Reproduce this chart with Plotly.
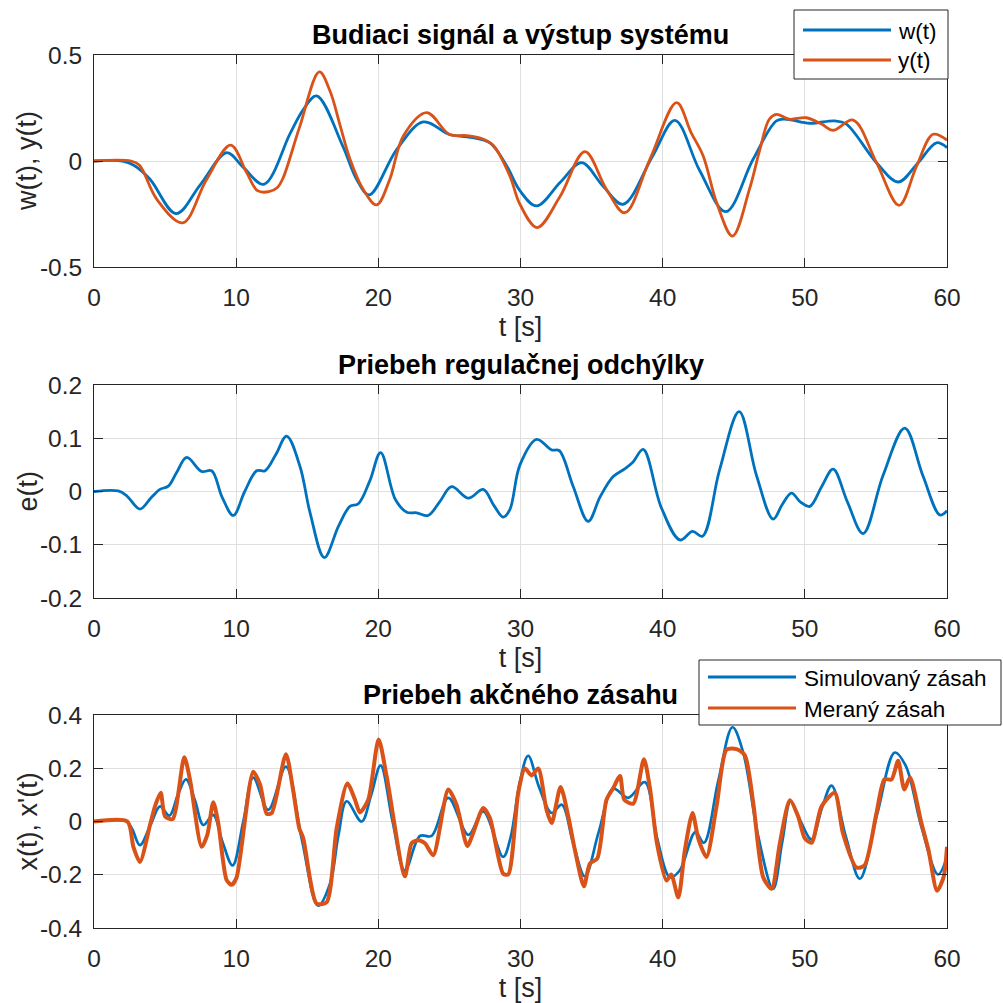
import plotly.graph_objects as go

# ---------------- data ----------------
t_w = [0, 2.0, 2.8, 3.94, 5.77, 7.5, 9.33, 10.5, 11.95, 13.8, 14.7, 15.66, 17.5, 18.47, 19.36,
       21.3, 23.16, 25.0, 26.5, 27.85, 29.0, 29.96, 31.13, 32.8, 34.3, 35.8, 37.22, 39.3,
       40.86, 42.6, 44.44, 46.36, 48.0, 48.7, 50.35, 52.1, 52.9, 55.04, 56.56, 57.97, 59.26, 60]
w = [0, 0, -0.02, -0.086, -0.248, -0.11, 0.039, -0.03, -0.11, 0.13, 0.24, 0.307, 0.07, -0.086, -0.16,
     0.055, 0.184, 0.125, 0.112, 0.085, -0.02, -0.14, -0.212, -0.10, -0.008, -0.118, -0.204, 0.024,
     0.192, -0.045, -0.239, 0.008, 0.189, 0.197, 0.178, 0.189, 0.175, -0.008, -0.099, -0.008, 0.086, 0.063]

t_y = [0, 2.6, 3.2, 4.41, 6.24, 7.9, 9.61, 10.74, 11.5, 12.3, 12.9, 13.3, 14.46, 15.85, 16.6, 17.3,
       18.0, 18.9, 19.88, 20.8, 21.76, 23.4, 25.0, 26.2, 27.3, 28.08, 29.25, 29.96, 31.17, 32.76,
       34.53, 36.05, 37.34, 39.1, 40.98, 42.0, 42.85, 43.8, 44.91, 46.1, 46.84, 47.5, 48.0, 48.9,
       50.1, 51.2, 51.99, 53.4, 55.04, 56.63, 57.86, 59.02, 60]
y = [0, 0, -0.02, -0.18, -0.292, -0.09, 0.075, -0.055, -0.14, -0.145, -0.125, -0.08, 0.16, 0.42, 0.33, 0.17,
     0.01, -0.13, -0.207, -0.087, 0.118, 0.228, 0.125, 0.12, 0.105, 0.074, -0.07, -0.204, -0.314, -0.17,
     0.044, -0.134, -0.244, 0.008, 0.275, 0.134, 0.024, -0.197, -0.354, -0.134, 0.055, 0.197, 0.22, 0.197,
     0.204, 0.173, 0.145, 0.193, -0.008, -0.209, -0.024, 0.126, 0.099]

t_e = [0, 1.7, 2.3, 3.23, 4.0, 4.64, 5.23, 5.8, 6.52, 7.57, 8.28, 9.0, 9.8, 10.6, 11.44, 12.03, 12.8,
       13.55, 14.49, 15.2, 16.2, 17.2, 18.0, 18.59, 19.4, 20.16, 21.2, 22.0, 22.7, 23.5, 24.3, 25.15,
       26.33, 27.38, 28.1, 28.78, 29.25, 29.96, 31.13, 32.19, 32.72, 33.7, 34.76, 35.6, 36.52, 37.3,
       37.9, 38.63, 39.9, 41.21, 42.1, 42.8, 44.0, 45.38, 46.6, 47.77, 48.4, 49.06, 49.7, 50.35, 51.2,
       51.99, 53.0, 54.1, 55.5, 57.03, 58.3, 59.5, 60]
e = [0, 0.001, -0.008, -0.033, -0.012, 0.004, 0.01, 0.035, 0.064, 0.0375, 0.039, -0.01, -0.045, 0.0, 0.039, 0.039, 0.07,
     0.104, 0.047, -0.04, -0.124, -0.065, -0.028, -0.023, 0.02, 0.073, -0.015, -0.039, -0.04, -0.045, -0.02, 0.009,
     -0.0125, 0.004, -0.025, -0.048, -0.034, 0.05, 0.098, 0.078, 0.077, 0.01, -0.056, -0.01, 0.028, 0.042,
     0.055, 0.079, -0.03, -0.091, -0.075, -0.084, 0.04, 0.15, 0.03, -0.052, -0.025, -0.003, -0.02, -0.028, 0.01,
     0.042, -0.02, -0.079, 0.03, 0.119, 0.03, -0.044, -0.036]

t_xs = [0, 2.3, 2.7, 3.23, 4.0, 4.64, 5.3, 5.9, 6.47, 7.1, 7.69, 8.39, 9.0, 9.75, 10.5, 11.2, 12.26,
        13.5, 14.6, 15.77, 16.6, 17.2, 17.77, 18.82, 19.5, 20.16, 21.0, 21.87, 22.93, 23.75, 24.92,
        26.33, 27.38, 28.78, 29.3, 29.96, 30.54, 31.3, 32.19, 32.9, 33.7, 34.53, 35.5, 36.52, 37.58,
        38.75, 39.6, 40.51, 41.2, 42.3, 42.9, 43.9, 44.91, 45.66, 46.7, 47.77, 48.4, 49.0, 49.6, 50.47,
        51.2, 51.88, 52.9, 53.87, 55.1, 56.33, 57.1, 58.2, 59.37, 60]
xs = [0, 0, -0.03, -0.089, -0.01, 0.057, 0.022, 0.1, 0.158, 0.08, -0.013, 0.025, -0.07, -0.165, 0.0, 0.165, 0.044,
      0.206, -0.063, -0.316, -0.234, -0.05, 0.076, 0.0, 0.1, 0.211, 0.0, -0.184, -0.054, -0.054, 0.089,
      -0.05, 0.038, -0.133, -0.06, 0.15, 0.247, 0.13, 0.032, 0.063, -0.08, -0.206, -0.04, 0.123, 0.089,
      0.148, -0.06, -0.209, -0.184, -0.04, -0.08, 0.15, 0.354, 0.26, -0.05, -0.253, -0.08, 0.076, 0.013, -0.067,
      0.05, 0.135, -0.06, -0.215, 0.03, 0.259, 0.209, -0.02, -0.199, -0.133]

t_xm = [0, 2.35, 2.77, 3.23, 3.94, 4.29, 4.69, 5.0, 5.53, 6.35, 6.75, 7.57, 7.97, 8.39, 8.74, 9.33, 9.68,
        10.03, 11.2, 11.68, 12.15, 12.5, 13.5, 14.0, 14.44, 14.72, 15.66, 16.36, 17.07, 17.82, 18.36,
        18.7, 19.29, 20.02, 20.58, 21.87, 22.34, 22.81, 23.28, 23.86, 24.92, 25.5, 26.26, 26.68, 27.38,
        27.85, 28.78, 29.14, 29.84, 30.31, 30.78, 31.25, 31.83, 32.19, 32.82, 33.36, 33.83, 34.46, 34.88,
        35.4, 36.05, 36.5, 37.0, 37.3, 37.93, 38.68, 39.1, 39.6, 40.27, 40.6, 41.1, 41.56, 42.1, 42.5,
        43.08, 43.79, 44.5, 45.2, 45.78, 46.37, 47.07, 47.66, 48.24, 48.95, 49.53, 50.0, 50.47, 51.18,
        52.1, 52.68, 53.64, 54.2, 55.04, 55.6, 56.1, 56.56, 57.0, 57.4, 58.2, 58.7, 59.3, 59.76, 60]
xm = [0, 0, -0.095, -0.152, -0.013, 0.057, 0.108, 0.019, 0.009, 0.241, 0.158, -0.095, -0.05, 0.072, -0.006, -0.22, -0.238,
      -0.21, 0.187, 0.139, 0.029, 0.032, 0.253, 0.12, -0.025, -0.063, -0.308, -0.304, -0.025, 0.143, 0.082,
      0.034, 0.082, 0.308, 0.171, -0.206, -0.082, -0.07, -0.082, -0.127, 0.12, 0.063, -0.092, -0.042, 0.051,
      0.013, -0.196, -0.199, 0.108, 0.199, 0.173, 0.199, 0.044, -0.006, 0.13, 0.019, -0.108, -0.243, -0.158,
      -0.139, 0.082, 0.123, 0.171, 0.082, 0.067, 0.234, 0.127, -0.082, -0.222, -0.199, -0.285, -0.108, 0.032, -0.063,
      -0.133, 0.057, 0.27, 0.272, 0.249, 0.07, -0.209, -0.253, -0.082, 0.08, 0.019, -0.063, -0.08, 0.057,
      0.108, -0.044, -0.173, -0.165, 0.032, 0.158, 0.158, 0.228, 0.12, 0.165, -0.006, -0.108, -0.26, -0.209, -0.095]

x_ticks = [0, 10, 20, 30, 40, 50, 60]
x_ticktext = ["0", "10", "20", "30", "40", "50", "60"]
y1_ticks = [-0.5, 0, 0.5]
y1_ticktext = ["-0.5", "0", "0.5"]
y2_ticks = [-0.2, -0.1, 0, 0.1, 0.2]
y2_ticktext = ["-0.2", "-0.1", "0", "0.1", "0.2"]
y3_ticks = [-0.4, -0.2, 0, 0.2, 0.4]
y3_ticktext = ["-0.4", "-0.2", "0", "0.2", "0.4"]

titles = ["Budiaci signál a výstup systému", "Priebeh regulačnej odchýlky", "Priebeh akčného zásahu"]
y_labels = ["w(t), y(t)", "e(t)", "x(t), x'(t)"]
x_label = "t [s]"
legend1 = ["w(t)", "y(t)"]
legend2 = ["Simulovaný zásah", "Meraný zásah"]

# ---------------- styling ----------------
BLUE = "#0072BD"
ORANGE = "#D95319"
AXC = "#262626"
FONT = "Liberation Sans, Arial, Helvetica, sans-serif"
W = H = 1003


def px(v):
    return v / W


def py(v):
    return 1 - v / H


fig = go.Figure()
fig.add_trace(go.Scatter(x=t_w, y=w, name=legend1[0], mode="lines", xaxis="x", yaxis="y",
                         line=dict(color=BLUE, width=2.8, shape="spline", smoothing=1.0)))
fig.add_trace(go.Scatter(x=t_y, y=y, name=legend1[1], mode="lines", xaxis="x", yaxis="y",
                         line=dict(color=ORANGE, width=2.8, shape="spline", smoothing=1.0)))
fig.add_trace(go.Scatter(x=t_e, y=e, name="e(t)", mode="lines", xaxis="x2", yaxis="y2",
                         line=dict(color=BLUE, width=2.8, shape="spline", smoothing=1.0)))
fig.add_trace(go.Scatter(x=t_xs, y=xs, name=legend2[0], mode="lines", xaxis="x3", yaxis="y3",
                         line=dict(color=BLUE, width=2.7, shape="spline", smoothing=1.0)))
fig.add_trace(go.Scatter(x=t_xm, y=xm, name=legend2[1], mode="lines", xaxis="x3", yaxis="y3",
                         line=dict(color=ORANGE, width=4.0, shape="spline", smoothing=0.7)))

common = dict(showline=True, linecolor=AXC, linewidth=1, mirror="ticks", ticks="inside",
              ticklen=9, tickwidth=1, tickcolor=AXC, showgrid=True, gridcolor="#dfdfdf",
              gridwidth=1, zeroline=False, automargin=False,
              tickfont=dict(family=FONT, size=24.5, color=AXC))

xdom = [px(94), px(947)]
ydoms = [[py(267), py(55)], [py(598), py(385)], [py(928), py(715)]]
yranges = [[-0.5, 0.5], [-0.2, 0.2], [-0.4, 0.4]]
yticks = [(y1_ticks, y1_ticktext), (y2_ticks, y2_ticktext), (y3_ticks, y3_ticktext)]

layout = dict(width=W, height=H, autosize=False, margin=dict(l=0, r=0, t=0, b=0, pad=0),
              paper_bgcolor="white", plot_bgcolor="white", showlegend=False,
              font=dict(family=FONT, color=AXC))
for i in range(3):
    sx = "" if i == 0 else str(i + 1)
    layout["xaxis" + sx] = dict(common, domain=xdom, range=[0, 60], anchor="y" + sx,
                                tickvals=x_ticks, ticktext=x_ticktext, ticklabelstandoff=9,
                                title=dict(text=x_label, font=dict(family=FONT, size=27, color=AXC),
                                           standoff=6))
    layout["yaxis" + sx] = dict(common, domain=ydoms[i], range=yranges[i], anchor="x" + sx,
                                tickvals=yticks[i][0], ticktext=yticks[i][1], ticklabelstandoff=6)
fig.update_layout(**layout)

# subplot titles and y-axis labels
tops = [55, 385, 715]
bottoms = [267, 598, 928]
for i in range(3):
    fig.add_annotation(x=px(520.5), y=py(tops[i]), xref="paper", yref="paper", text="<b>" + titles[i] + "</b>",
                       showarrow=False, xanchor="center", yanchor="bottom", yshift=3,
                       font=dict(family=FONT, size=27, color="black"))
    fig.add_annotation(x=px(27), y=py((tops[i] + bottoms[i]) / 2), xref="paper", yref="paper",
                       text=y_labels[i], textangle=-90, showarrow=False,
                       xanchor="center", yanchor="middle",
                       font=dict(family=FONT, size=27, color=AXC))

# legends (boxes drawn on top of the axes)
def add_legend(x0, x1, y0, y1, rows, line_x0, line_x1, text_x, size):
    fig.add_shape(type="rect", xref="paper", yref="paper", x0=px(x0), x1=px(x1), y0=py(y1), y1=py(y0),
                  line=dict(color=AXC, width=1), fillcolor="white", layer="above")
    for (yy, col, txt) in rows:
        fig.add_shape(type="line", xref="paper", yref="paper", x0=px(line_x0), x1=px(line_x1),
                      y0=py(yy), y1=py(yy), line=dict(color=col, width=3), layer="above")
        fig.add_annotation(x=px(text_x), y=py(yy + 1), xref="paper", yref="paper", text=txt,
                           showarrow=False, xanchor="left", yanchor="middle",
                           font=dict(family=FONT, size=size, color="black"))

add_legend(794, 948, 10, 79, [(30, BLUE, legend1[0]), (60, ORANGE, legend1[1])], 803, 891, 896, 22.5)
add_legend(699, 1001, 660, 725, [(677, BLUE, legend2[0]), (708, ORANGE, legend2[1])], 708, 796, 802, 22.5)

fig.write_html("out.html")
